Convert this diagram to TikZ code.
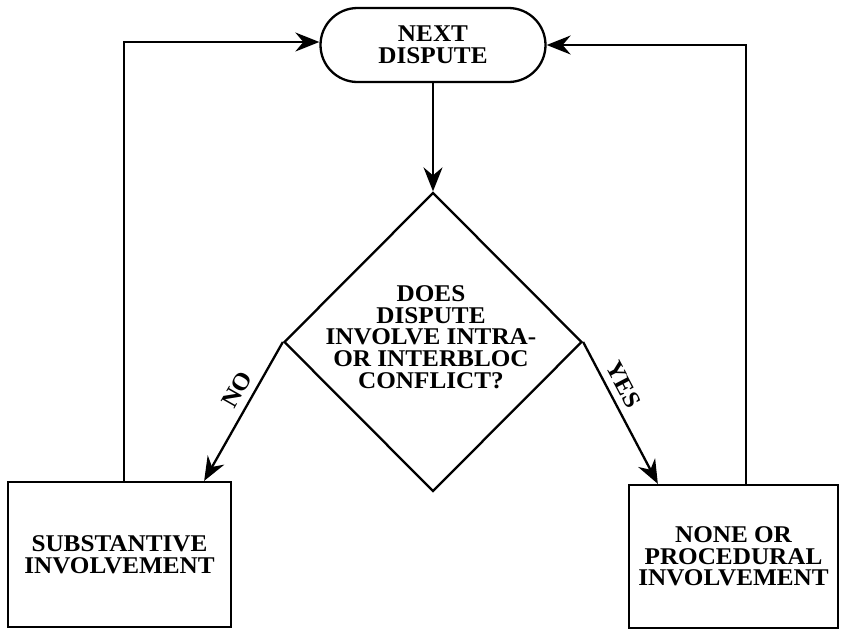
\documentclass[tikz,border=0pt]{standalone}
\usepackage{fontspec}
\setmainfont{Liberation Serif}[FakeStretch=1.05]
\usetikzlibrary{arrows.meta,shapes.geometric,shapes.misc}
\tikzset{
  lbl/.style={font=\fontsize{24}{21.7}\selectfont\bfseries, align=center},
  ln/.style={line width=2.3pt},
  arr/.style={ln, -{Stealth[length=24pt,width=19pt,inset=8pt]}},
  boxnode/.style={draw, ln, inner sep=0pt},
  tag/.style={lbl, sloped, above=7pt, inner sep=0pt},
}
\begin{document}
\begin{tikzpicture}[x=1pt,y=-1pt]
\useasboundingbox (0,0) rectangle (848,630);
\node[rounded rectangle, draw, ln, minimum width=225pt, minimum height=74pt, inner sep=0pt, lbl] (top) at (433,45) {NEXT\\DISPUTE};
\node[diamond, draw, ln, minimum width=298pt, minimum height=299pt, inner sep=0pt] (q) at (433,342) {};
\node[lbl] (qt) at (431,337) {DOES\\DISPUTE\\INVOLVE INTRA-\\OR INTERBLOC\\CONFLICT?};
\node[boxnode, minimum width=223pt, minimum height=145pt, lbl] (lb) at (119.5,554.5) {SUBSTANTIVE\\INVOLVEMENT};
\node[boxnode, minimum width=209pt, minimum height=143pt, lbl] (rb) at (733.5,556.5) {NONE OR\\PROCEDURAL\\INVOLVEMENT};
\draw[arr] (top.south) -- (q.north);
\draw[arr] (q.west) -- ([xshift=-28pt]lb.north east) node[tag, pos=0.4] (no) {NO};
\draw[arr] (q.east) -- ([xshift=30pt]rb.north west) node[tag, pos=0.35] (yes) {YES};
\draw[arr] ([xshift=4.5pt]lb.north) |- ([yshift=3pt]top.west);
\draw[arr] ([xshift=12.5pt]rb.north) |- (top.east);
\end{tikzpicture}
\end{document}
